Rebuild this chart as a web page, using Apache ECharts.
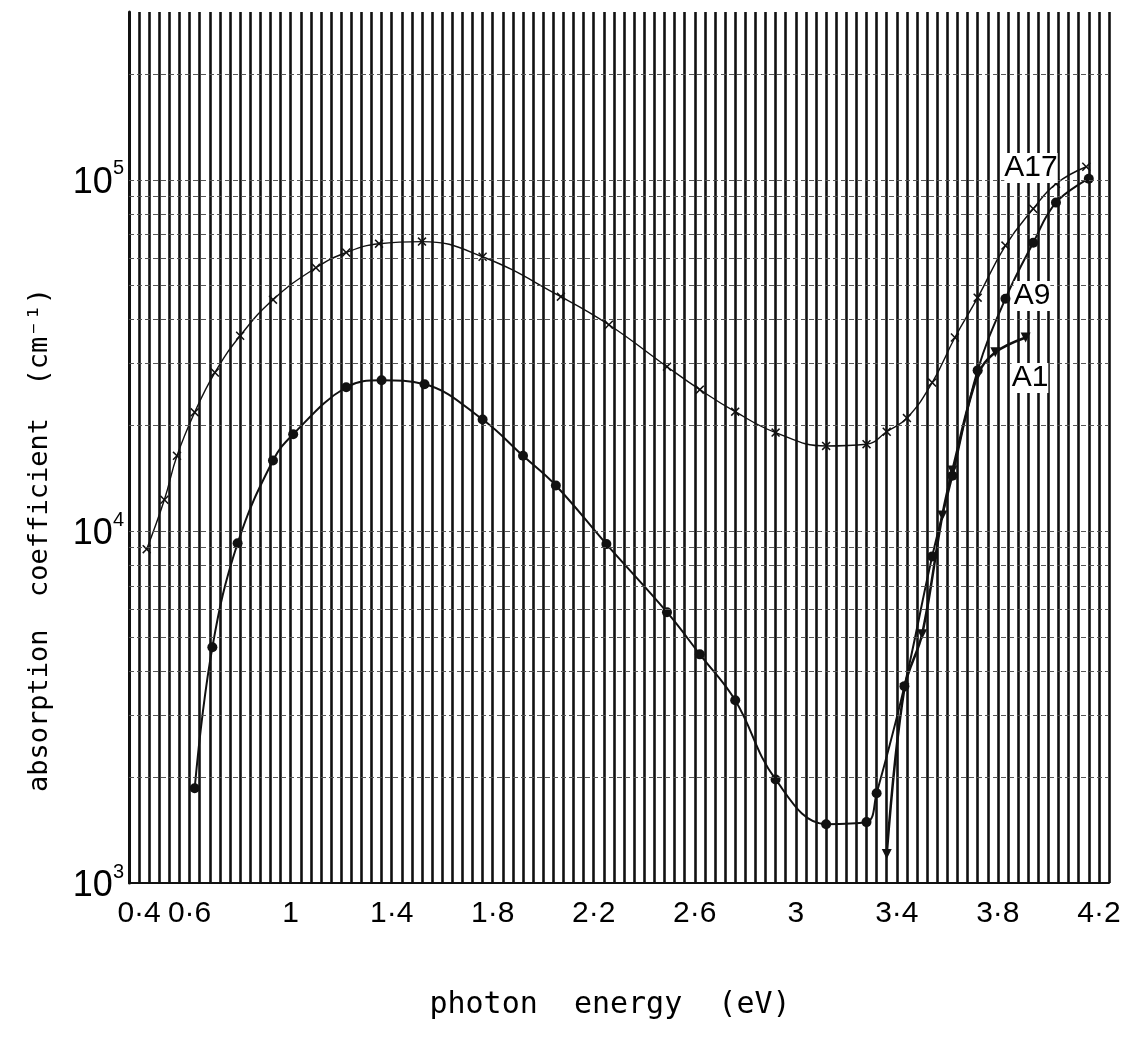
<!DOCTYPE html>
<html>
<head>
<meta charset="utf-8">
<script src="https://cdn.jsdelivr.net/npm/echarts@6/dist/echarts.min.js"></script>
<style>
  html, body { margin: 0; padding: 0; background: #fff; }
  #chart { width: 1130px; height: 1059px; }
</style>
</head>
<body>
<div id="chart"></div>
<script>
// ---- data ----
const xTickLabels = { '0.4': '0·4', '0.6': '0·6', '1': '1', '1.4': '1·4', '1.8': '1·8', '2.2': '2·2',
                      '2.6': '2·6', '3': '3', '3.4': '3·4', '3.8': '3·8', '4.2': '4·2' };
const yMinorGrid = [2000, 3000, 4000, 5000, 6000, 7000, 8000, 9000, 10000,
                    20000, 30000, 40000, 50000, 60000, 70000, 80000, 90000, 100000, 200000];

const a17Energy = [0.43, 0.50, 0.55, 0.62, 0.70, 0.80, 0.93, 1.10, 1.22, 1.35, 1.52, 1.76, 2.07, 2.26,
                   2.49, 2.62, 2.76, 2.92, 3.12, 3.28, 3.36, 3.44, 3.54, 3.63, 3.72, 3.83, 3.94, 4.03, 4.15];
const a17Coef   = [8900, 12300, 16400, 21800, 28300, 36000, 45600, 56200, 62100, 65800, 66700, 60400, 46500, 38700,
                   29400, 25300, 21900, 19100, 17500, 17700, 19200, 21000, 26500, 35600, 46200, 65000, 82700, 97400, 108900];

const a9Energy = [0.62, 0.69, 0.79, 0.93, 1.01, 1.22, 1.36, 1.53, 1.76, 1.92, 2.05, 2.25, 2.49, 2.62,
                  2.76, 2.92, 3.12, 3.28, 3.32, 3.43, 3.54, 3.62, 3.72, 3.83, 3.94, 4.03, 4.16];
const a9Coef   = [1860, 4680, 9250, 15900, 18900, 25700, 26900, 26200, 20800, 16400, 13500, 9200, 5890, 4470,
                  3310, 1970, 1470, 1490, 1800, 3630, 8490, 14400, 28700, 45900, 66200, 86100, 100700];

const a1Energy = [3.36, 3.43, 3.50, 3.58, 3.62, 3.72, 3.79, 3.91];
const a1Coef   = [1210, 3580, 5100, 11100, 14900, 27800, 32300, 35600];

const seriesNames = ['A17', 'A9', 'A1'];

// ---- chart ----
const zip = (xs, ys) => xs.map((x, i) => [x, ys[i]]);
const tickFont = "'Liberation Sans', Arial, sans-serif";
const monoFont = "'DejaVu Sans Mono', 'Liberation Mono', monospace";
const ink = '#111';
const crossPath = 'path://M0,1.2L1.2,0L5,3.8L8.8,0L10,1.2L6.2,5L10,8.8L8.8,10L5,6.2L1.2,10L0,8.8L3.8,5Z';

const chart = echarts.init(document.getElementById('chart'), null, { renderer: 'canvas' });
chart.setOption({
  animation: false,
  backgroundColor: '#fff',
  grid: { left: 129, right: 21, top: 12, bottom: 176, containLabel: false },
  xAxis: {
    type: 'value', min: 0.36, max: 4.24, interval: 0.04,
    axisLine: { show: true, onZero: false, lineStyle: { color: ink, width: 2 } },
    axisTick: { show: false },
    splitLine: { show: true, lineStyle: { color: ink, width: 2.6 } },
    axisLabel: {
      interval: 0, margin: 16, color: '#000', fontSize: 30, fontFamily: tickFont,
      formatter: v => xTickLabels[String(Math.round(v * 100) / 100)] || ''
    }
  },
  yAxis: {
    type: 'log', logBase: 10, min: 1000, max: 300000,
    axisLine: { show: true, lineStyle: { color: ink, width: 3 } },
    axisTick: { show: false },
    splitLine: { show: false },
    axisLabel: {
      margin: 5, color: '#000',
      formatter: v => {
        const e = Math.log10(v), r = Math.round(e);
        return Math.abs(e - r) < 1e-6 ? '{b|10}{s|' + r + '}' : '';
      },
      rich: {
        b: { fontSize: 36, fontFamily: tickFont, color: '#000', lineHeight: 42, verticalAlign: 'bottom' },
        s: { fontSize: 20, fontFamily: tickFont, color: '#000', lineHeight: 42, verticalAlign: 'top' }
      }
    }
  },
  series: [
    {
      name: seriesNames[0], type: 'line', data: zip(a17Energy, a17Coef), smooth: 0.45,
      symbol: crossPath, symbolSize: 9,
      lineStyle: { color: ink, width: 1.4 }, itemStyle: { color: ink },
      markLine: {
        silent: true, symbol: 'none', label: { show: false },
        lineStyle: { color: '#555', width: 1, type: [5, 3] },
        data: yMinorGrid.map(v => ({ yAxis: v }))
      }
    },
    {
      name: seriesNames[1], type: 'line', data: zip(a9Energy, a9Coef), smooth: 0.4,
      symbol: 'circle', symbolSize: 10,
      lineStyle: { color: ink, width: 2 }, itemStyle: { color: ink }
    },
    {
      name: seriesNames[2], type: 'line', data: zip(a1Energy, a1Coef), smooth: 0.35,
      symbol: 'triangle', symbolRotate: 180, symbolSize: 10,
      lineStyle: { color: ink, width: 2.5 }, itemStyle: { color: ink }
    }
  ],
  graphic: [
    { type: 'text', x: 1031, y: 168, z: 100, style: { text: 'A17', font: "30px " + tickFont, fill: '#000', textAlign: 'center', textVerticalAlign: 'middle', backgroundColor: '#fff' } },
    { type: 'text', x: 1032, y: 296, z: 100, style: { text: 'A9', font: "30px " + tickFont, fill: '#000', textAlign: 'center', textVerticalAlign: 'middle', backgroundColor: '#fff' } },
    { type: 'text', x: 1030, y: 378, z: 100, style: { text: 'A1', font: "30px " + tickFont, fill: '#000', textAlign: 'center', textVerticalAlign: 'middle', backgroundColor: '#fff' } },
    { type: 'text', x: 40, y: 540, rotation: Math.PI / 2,
      style: { text: 'absorption  coefficient  (cm⁻¹)', font: "27px " + monoFont, fill: '#000', textAlign: 'center', textVerticalAlign: 'middle' } },
    { type: 'text', x: 610, y: 1005,
      style: { text: 'photon  energy  (eV)', font: "30px " + monoFont, fill: '#000', textAlign: 'center', textVerticalAlign: 'middle' } }
  ]
});
</script>
</body>
</html>
